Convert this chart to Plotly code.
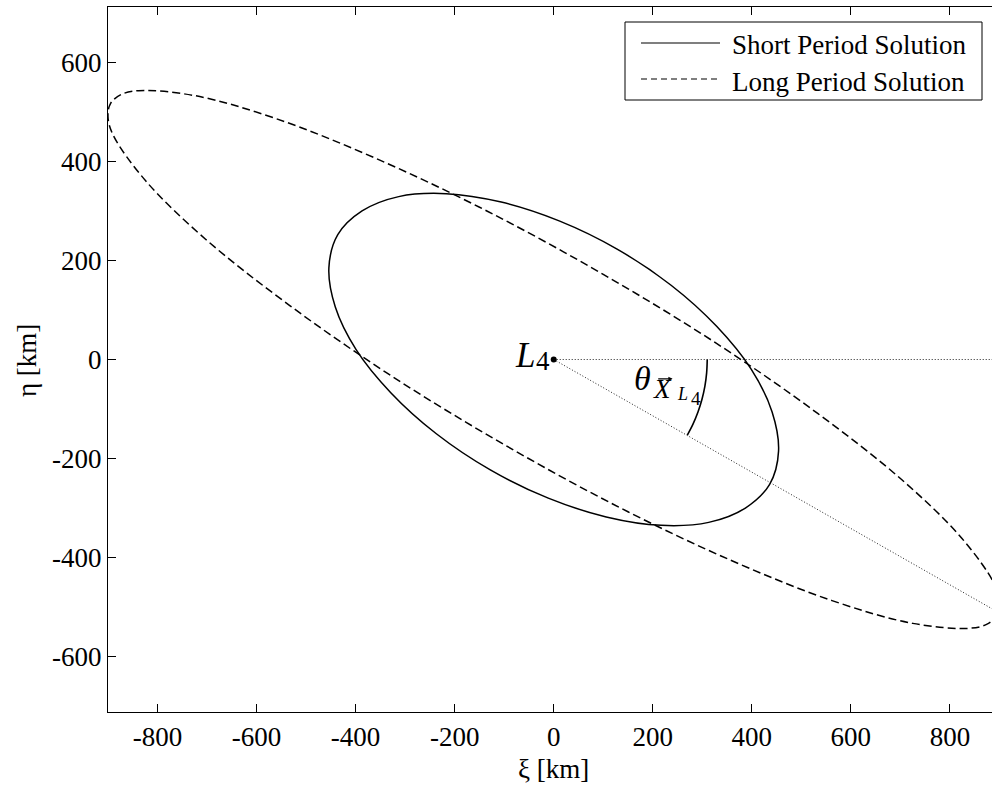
import plotly.graph_objects as go

# ---------------- data (km) ----------------
short_xi = [436, 454, 441, 399, 329, 237, 128, 11, -106, -217, -313, -387,
            -436, -454, -441, -399, -329, -237, -128, -11, 106, 217, 313, 387, 436]
short_eta = [-252, -185, -106, -20, 67, 150, 223, 280, 318, 335, 329, 300,
             252, 185, 106, 20, -67, -150, -223, -280, -318, -335, -329, -300, -252]

long_xi = [895, 900, 890, 824, 703, 533, 328, 100, -135, -361, -562, -725, -838, -874,
           -895, -900, -890, -824, -703, -533, -328, -100, 135, 361, 562, 725, 838, 874, 895]
long_eta = [-517, -490, -454, -361, -243, -109, 33, 172, 300, 407, 487, 533, 543, 535,
            517, 490, 454, 361, 243, 109, -33, -172, -300, -407, -487, -533, -543, -535, -517]

ref_line_xi = [0, 900]
ref_line_eta = [0, 0]
axis_line_xi = [0, 900]
axis_line_eta = [0, -512]

arc_xi = [310, 308.8, 305.3, 299.4, 291.3, 281.0, 269.8]
arc_eta = [0, -27.0, -53.8, -80.2, -106.0, -131.0, -152.6]

l4_xi = [0]
l4_eta = [0]

x_ticks = [-800, -600, -400, -200, 0, 200, 400, 600, 800]
x_tick_text = ["-800", "-600", "-400", "-200", "0", "200", "400", "600", "800"]
y_ticks = [-600, -400, -200, 0, 200, 400, 600]
y_tick_text = ["-600", "-400", "-200", "0", "200", "400", "600"]

legend_names = ["Short Period Solution", "Long Period Solution"]

FONT = "Liberation Serif, Times New Roman, serif"

# ---------------- figure ----------------
fig = go.Figure()

fig.add_trace(go.Scatter(x=ref_line_xi, y=ref_line_eta, mode="lines",
                         line=dict(color="#222222", width=1, dash="1px,2px"),
                         hoverinfo="skip"))
fig.add_trace(go.Scatter(x=axis_line_xi, y=axis_line_eta, mode="lines",
                         line=dict(color="#222222", width=1, dash="1px,2px"),
                         hoverinfo="skip"))
fig.add_trace(go.Scatter(x=long_xi, y=long_eta, mode="lines", name=legend_names[1],
                         line=dict(color="black", width=1.5, dash="8px,4px",
                                   shape="spline", smoothing=1)))
fig.add_trace(go.Scatter(x=short_xi, y=short_eta, mode="lines", name=legend_names[0],
                         line=dict(color="black", width=1.5, shape="spline", smoothing=1)))
fig.add_trace(go.Scatter(x=arc_xi, y=arc_eta, mode="lines",
                         line=dict(color="black", width=1.6, shape="spline"),
                         hoverinfo="skip"))
fig.add_trace(go.Scatter(x=l4_xi, y=l4_eta, mode="markers",
                         marker=dict(color="black", size=6), hoverinfo="skip"))

L, R, T, B = 108, 992, 7, 712


def px_x(p):
    return (p - L) / (R - L)


def px_y(p):
    return (B - p) / (B - T)


annotations = [
    # L4 label
    dict(x=-59, y=9, text="<i>L</i>", font=dict(family=FONT, size=35)),
    dict(x=-22, y=-3, text="4", font=dict(family=FONT, size=27)),
    # theta label
    dict(x=179, y=-38, text="<i>θ</i>", font=dict(family=FONT, size=34)),
    dict(x=220, y=-60, text="<i>X</i>", font=dict(family=FONT, size=27)),
    dict(x=260, y=-70, text="<i>L</i>", font=dict(family=FONT, size=18)),
    dict(x=287, y=-79, text="4", font=dict(family=FONT, size=19)),
]
for a in annotations:
    a.update(xref="x", yref="y", showarrow=False, xanchor="center", yanchor="middle")

# vector arrow over X
annotations.append(dict(x=240, y=-39, ax=208, ay=-39, xref="x", yref="y", axref="x", ayref="y",
                        text="", showarrow=True, arrowhead=2, arrowsize=0.7, arrowwidth=1.2,
                        arrowcolor="black", standoff=0, startstandoff=0))

# axis titles
annotations.append(dict(x=px_x(553), y=px_y(769), xref="paper", yref="paper",
                        text="ξ [km]", showarrow=False, xanchor="center", yanchor="middle",
                        font=dict(family=FONT, size=27)))
annotations.append(dict(x=px_x(27), y=px_y(361), xref="paper", yref="paper",
                        text="η [km]", showarrow=False, xanchor="center", yanchor="middle",
                        textangle=-90, font=dict(family=FONT, size=27)))
# legend texts
annotations.append(dict(x=px_x(730), y=px_y(45), xref="paper", yref="paper",
                        text=legend_names[0], showarrow=False, xanchor="left", yanchor="middle",
                        font=dict(family=FONT, size=27)))
annotations.append(dict(x=px_x(730), y=px_y(82), xref="paper", yref="paper",
                        text=legend_names[1], showarrow=False, xanchor="left", yanchor="middle",
                        font=dict(family=FONT, size=27)))

shapes = [
    dict(type="rect", xref="paper", yref="paper", x0=px_x(625), x1=px_x(982),
         y0=px_y(100), y1=px_y(22), line=dict(color="black", width=1), fillcolor="white",
         layer="above"),
    dict(type="line", xref="paper", yref="paper", x0=px_x(641), x1=px_x(720),
         y0=px_y(43), y1=px_y(43), line=dict(color="black", width=1.2)),
    dict(type="line", xref="paper", yref="paper", x0=px_x(641), x1=px_x(720),
         y0=px_y(79), y1=px_y(79), line=dict(color="black", width=1.2, dash="6px,4px")),
]

fig.update_layout(
    width=992, height=786,
    margin=dict(l=L, r=992 - R, t=T, b=786 - B, pad=0),
    plot_bgcolor="white", paper_bgcolor="white",
    showlegend=False,
    font=dict(family=FONT, size=27, color="black"),
    annotations=annotations,
    shapes=shapes,
)
fig.update_xaxes(range=[-900, 885], tickmode="array", tickvals=x_ticks, ticktext=x_tick_text,
                 ticks="inside", ticklen=8, tickwidth=1, tickcolor="black",
                 showline=True, linewidth=1.3, linecolor="black", mirror="ticks",
                 showgrid=False, zeroline=False, ticklabelstandoff=0,
                 tickfont=dict(family=FONT, size=27, color="black"))
fig.update_yaxes(range=[-712, 712], tickmode="array", tickvals=y_ticks, ticktext=y_tick_text,
                 ticks="inside", ticklen=8, tickwidth=1, tickcolor="black",
                 showline=True, linewidth=1.3, linecolor="black", mirror=False,
                 showgrid=False, zeroline=False, ticklabelstandoff=0,
                 tickfont=dict(family=FONT, size=27, color="black"))

fig.write_html("out.html", config={"displayModeBar": False},
               post_script="document.body.style.margin='0';document.body.style.overflow='hidden';")
